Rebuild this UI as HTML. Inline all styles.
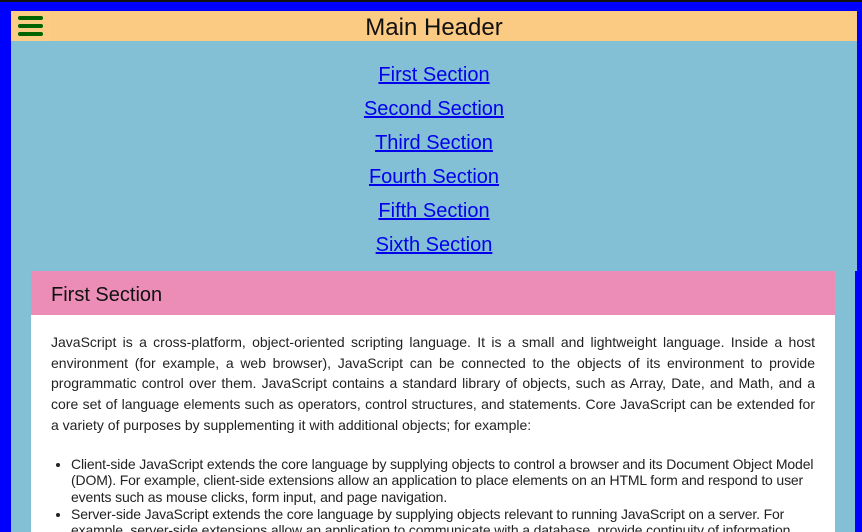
<!DOCTYPE html>
<html><head><meta charset="utf-8"><style>
*{margin:0;padding:0;box-sizing:border-box}
html,body{width:862px;height:532px;overflow:hidden;background:#0000ff}
body{position:relative;font-family:"Liberation Sans","DejaVu Sans",sans-serif}
.topline{position:absolute;left:0;top:0;width:862px;height:2px;background:#111}
.hdr{position:absolute;left:11px;top:11px;width:846px;height:30px;background:#fccb83;text-align:center;font-size:24px;line-height:33px;color:#111}
.ham{position:absolute;left:0;top:0;width:39px;height:30px;background:#fdcd85}
.ham i{position:absolute;left:7px;width:25px;height:4px;border-radius:2px;background:#006400}
.nav{position:absolute;left:11px;top:41px;width:846px;height:230px;background:#83c0d5;text-align:center}
.nav a{display:block;position:absolute;left:0;width:846px;color:#0000ee;font-size:20px;line-height:24px;text-decoration:underline}
.low{position:absolute;left:11px;top:271px;width:844px;height:261px;background:#83c0d5}
.card{position:absolute;left:20px;top:0;width:804px;height:261px;background:#fff}
.ct{height:44px;background:#eb8db7;font-size:20px;line-height:48px;padding-left:20px;color:#111}
.cb{padding:17px 20px 0 20px;font-size:14px;color:#222}
.cb p{text-align:justify;line-height:20.7px}
.cb ul{margin-top:20px;padding-left:20px;line-height:16.7px;letter-spacing:-0.15px}
</style></head><body>
<div class="topline"></div>
<div class="hdr"><div class="ham"><i style="top:5px"></i><i style="top:13px"></i><i style="top:21px"></i></div>Main Header</div>
<div class="nav">
<a style="top:22px">First Section</a>
<a style="top:56px">Second Section</a>
<a style="top:90px">Third Section</a>
<a style="top:124px">Fourth Section</a>
<a style="top:158px">Fifth Section</a>
<a style="top:192px">Sixth Section</a>
</div>
<div class="low"><div class="card">
<div class="ct">First Section</div>
<div class="cb">
<p>JavaScript is a cross-platform, object-oriented scripting language. It is a small and lightweight language. Inside a host environment (for example, a web browser), JavaScript can be connected to the objects of its environment to provide programmatic control over them. JavaScript contains a standard library of objects, such as Array, Date, and Math, and a core set of language elements such as operators, control structures, and statements. Core JavaScript can be extended for a variety of purposes by supplementing it with additional objects; for example:</p>
<ul>
<li>Client-side JavaScript extends the core language by supplying objects to control a browser and its Document Object Model (DOM). For example, client-side extensions allow an application to place elements on an HTML form and respond to user events such as mouse clicks, form input, and page navigation.</li>
<li>Server-side JavaScript extends the core language by supplying objects relevant to running JavaScript on a server. For example, server-side extensions allow an application to communicate with a database, provide continuity of information from one invocation to another of the application, or perform file manipulations on a server.</li>
</ul>
</div></div></div>
</body></html>
